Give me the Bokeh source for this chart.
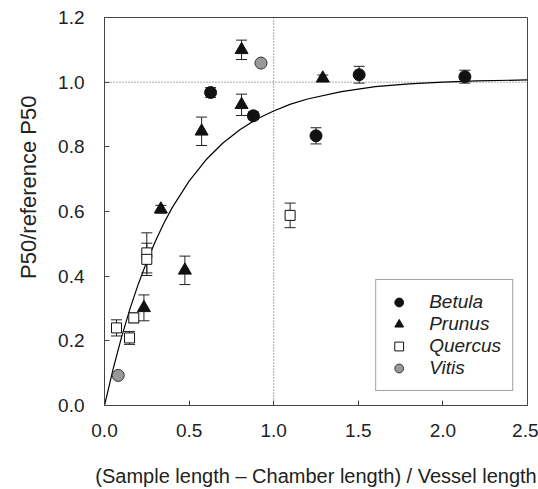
from bokeh.plotting import figure
from bokeh.models import (ColumnDataSource, Whisker, TeeHead, Span, Legend,
                          LegendItem, Title, FixedTicker, PrintfTickFormatter)
from bokeh.embed import file_html
from bokeh.resources import INLINE

# ---------------- data ----------------
species = ["Betula", "Prunus", "Quercus", "Vitis"]

betula_x = [0.627, 0.88, 1.25, 1.505, 2.13]
betula_y = [0.968, 0.896, 0.834, 1.023, 1.017]
betula_err = [0.015, 0.012, 0.025, 0.026, 0.020]

prunus_x = [0.233, 0.333, 0.475, 0.574, 0.81, 0.81, 1.29]
prunus_y = [0.302, 0.607, 0.418, 0.848, 0.930, 1.100, 1.012]
prunus_err = [0.040, 0.012, 0.044, 0.044, 0.033, 0.030, 0.010]

quercus_x = [0.071, 0.148, 0.173, 0.25, 0.25, 1.097]
quercus_y = [0.240, 0.209, 0.271, 0.472, 0.452, 0.588]
quercus_err = [0.025, 0.020, 0.015, 0.062, 0.050, 0.038]

vitis_x = [0.081, 0.925]
vitis_y = [0.093, 1.059]

# fitted saturation curve
curve_x = [0.0, 0.05, 0.1, 0.15, 0.2, 0.25, 0.3, 0.35, 0.4, 0.5, 0.6, 0.7,
           0.8, 0.9, 1.0, 1.1, 1.2, 1.4, 1.6, 1.8, 2.0, 2.2, 2.5]
curve_y = [0.0, 0.111, 0.210, 0.298, 0.376, 0.445, 0.507, 0.563, 0.612,
           0.694, 0.760, 0.812, 0.853, 0.886, 0.911, 0.932, 0.948, 0.971,
           0.986, 0.995, 1.000, 1.004, 1.007]

x_ticks = [0.0, 0.5, 1.0, 1.5, 2.0, 2.5]
y_ticks = [0.0, 0.2, 0.4, 0.6, 0.8, 1.0, 1.2]
ref_x = 1.0
ref_y = 1.0

x_title = "(Sample length \u2013 Chamber length) / Vessel length"
y_title = "P50/reference P50"

FONT = "Liberation Sans"
TXT = "#222222"
AX = "#444444"

p = figure(width=538, height=489, x_range=(0, 2.5), y_range=(0, 1.2),
           output_backend="svg", toolbar_location=None,
           min_border_left=104, min_border_right=11, min_border_top=17,
           min_border_bottom=84)
p.background_fill_color = "white"
p.border_fill_color = "white"
p.outline_line_color = AX
p.outline_line_width = 1
p.xgrid.visible = False
p.ygrid.visible = False

for ax, ticks in ((p.xaxis[0], x_ticks), (p.yaxis[0], y_ticks)):
    ax.ticker = FixedTicker(ticks=ticks)
    ax.formatter = PrintfTickFormatter(format="%.1f")
    ax.major_tick_in = 5
    ax.major_tick_out = 0
    ax.minor_tick_line_color = None
    ax.axis_line_color = AX
    ax.major_tick_line_color = AX
    ax.major_label_text_font = FONT
    ax.major_label_text_font_size = "19px"
    ax.major_label_text_color = TXT
p.xaxis[0].major_label_standoff = 18
p.yaxis[0].major_label_standoff = 20

p.xaxis[0].axis_label = x_title
p.xaxis[0].axis_label_text_font = FONT
p.xaxis[0].axis_label_text_font_size = "20px"
p.xaxis[0].axis_label_text_font_style = "normal"
p.xaxis[0].axis_label_text_color = TXT
p.xaxis[0].axis_label_standoff = 25

# y title: a side title, placed toward the top as in the reference
p.add_layout(Title(text=y_title, align="right", offset=78,
                   vertical_align="top", standoff=26,
                   text_font=FONT, text_font_size="22px",
                   text_font_style="normal", text_color=TXT), "left")

# dotted reference lines
p.add_layout(Span(location=ref_y, dimension="width", line_color="#555555",
                  line_dash="1 2", line_width=1, level="underlay"))
p.add_layout(Span(location=ref_x, dimension="height", line_color="#555555",
                  line_dash="1 2", line_width=1, level="underlay"))

# fitted curve
p.line(curve_x, curve_y, line_color="black", line_width=1.2)


def whiskers(xs, ys, errs):
    src = ColumnDataSource(dict(x=xs,
                                upper=[y + e for y, e in zip(ys, errs)],
                                lower=[y - e for y, e in zip(ys, errs)]))
    w = Whisker(source=src, base="x", upper="upper", lower="lower",
                line_color="#222222", line_width=1, level="underlay",
                upper_head=TeeHead(size=11, line_color="#222222", line_width=1),
                lower_head=TeeHead(size=11, line_color="#222222", line_width=1))
    p.add_layout(w)


whiskers(betula_x, betula_y, betula_err)
whiskers(prunus_x, prunus_y, prunus_err)
whiskers(quercus_x, quercus_y, quercus_err)

r_b = p.scatter(betula_x, betula_y, marker="circle", size=12,
                fill_color="#111111", line_color="#111111")
r_p = p.scatter(prunus_x, prunus_y, marker="triangle", size=13,
                fill_color="#111111", line_color="#111111")
r_q = p.scatter(quercus_x, quercus_y, marker="square", size=10,
                fill_color="white", line_color="#111111", line_width=1)
r_v = p.scatter(vitis_x, vitis_y, marker="circle", size=12,
                fill_color="#999999", line_color="#333333", line_width=1)

legend = Legend(items=[LegendItem(label=species[0], renderers=[r_b]),
                       LegendItem(label=species[1], renderers=[r_p]),
                       LegendItem(label=species[2], renderers=[r_q]),
                       LegendItem(label=species[3], renderers=[r_v])],
                location="bottom_right", margin=14, padding=11,
                glyph_width=23, glyph_height=22, spacing=0,
                label_standoff=19, label_text_font=FONT,
                label_text_font_style="italic", label_text_font_size="19px",
                label_text_color=TXT, border_line_color=AX,
                border_line_width=1, background_fill_alpha=1)
p.add_layout(legend)

open("out.html", "w").write(file_html(p, INLINE))
